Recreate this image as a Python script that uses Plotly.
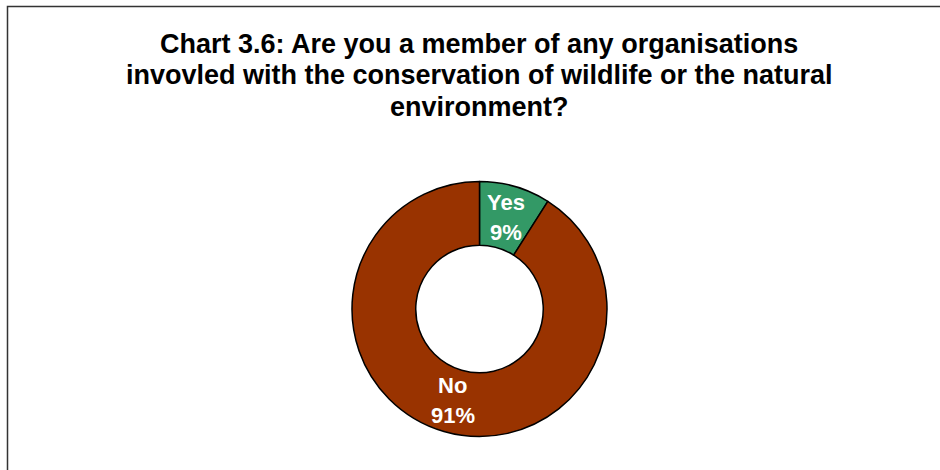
import math
import plotly.graph_objects as go

# Survey answers
labels = ["Yes", "No"]
values = [9, 91]
colors = ["#339966", "#993300"]

title_lines = [
    "Chart 3.6: Are you a member of any organisations",
    "invovled with the conservation of wildlife or the natural",
    "environment?",
]

W, H = 940, 470
FONT = "Arial, 'Liberation Sans', sans-serif"

# Donut geometry in pixels
cx, cy, r_out = 479.5, 309.0, 127.5
hole = 0.5
r_mid = r_out * (1 + hole) / 2

dom_x = [(cx - r_out) / W, (cx + r_out) / W]
dom_y = [(H - cy - r_out) / H, (H - cy + r_out) / H]

fig = go.Figure(
    go.Pie(
        labels=labels,
        values=values,
        hole=hole,
        sort=False,
        direction="clockwise",
        rotation=0,
        marker=dict(colors=colors, line=dict(color="#000000", width=1.5)),
        textinfo="none",
        hoverinfo="label+percent",
        domain=dict(x=dom_x, y=dom_y),
        showlegend=False,
    )
)

annotations = []

# Title, one annotation per line
title_y = [44.5, 75.5, 106.5]
for line, ypx in zip(title_lines, title_y):
    annotations.append(dict(
        text=f"<b>{line}</b>", x=479.5 / W, y=1 - ypx / H,
        xref="paper", yref="paper", xanchor="center", yanchor="middle",
        showarrow=False, font=dict(family=FONT, size=27, color="#000000"),
    ))

# Slice labels placed at the middle of each ring segment
total = sum(values)
cum = 0.0
for lab, v in zip(labels, values):
    theta = 2 * math.pi * (cum + v / 2) / total
    cum += v
    xp = cx + r_mid * math.sin(theta)
    yp = cy - r_mid * math.cos(theta)
    pct = f"{round(100 * v / total)}%"
    for txt, shift in ((lab, 15), (pct, -15)):
        annotations.append(dict(
            text=f"<b>{txt}</b>", x=xp / W, y=1 - yp / H,
            xref="paper", yref="paper", xanchor="center", yanchor="middle",
            yshift=shift, showarrow=False,
            font=dict(family=FONT, size=22, color="#ffffff"),
        ))

fig.update_layout(
    width=W,
    height=H,
    margin=dict(l=0, r=0, t=0, b=0),
    paper_bgcolor="#ffffff",
    plot_bgcolor="#ffffff",
    annotations=annotations,
    shapes=[dict(
        type="rect", xref="paper", yref="paper",
        x0=7.5 / W, x1=1.05, y0=-0.05, y1=1 - 6.5 / H,
        line=dict(color="#333333", width=1.5), fillcolor="rgba(0,0,0,0)",
    )],
)

fig.write_html("out.html")
